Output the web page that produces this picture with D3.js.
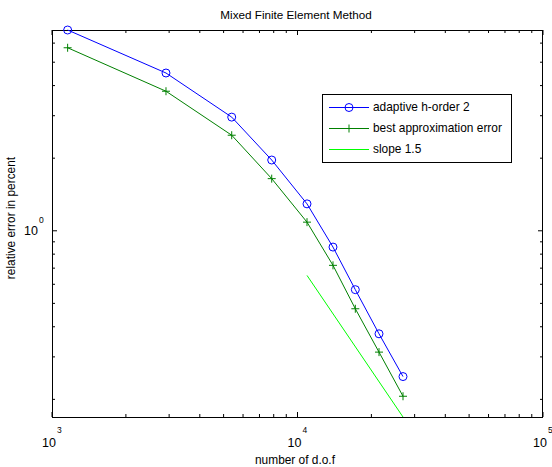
<!DOCTYPE html>
<html><head><meta charset="utf-8">
<script src="https://cdn.jsdelivr.net/npm/d3@7"></script>
<style>body{margin:0;background:#fff}svg{display:block}text{font-family:"Liberation Sans",Arial,sans-serif;fill:#000}</style>
</head><body>
<script>
// data
const dof = [1158, 2913, 5395, 7852, 10932, 13950, 17200, 21480, 26900];
const adaptive = [6.80, 4.51, 2.96, 1.965, 1.293, 0.856, 0.570, 0.374, 0.2486];
const bestApprox = [5.74, 3.79, 2.49, 1.645, 1.086, 0.719, 0.475, 0.314, 0.206];
const slopeX = [10932, 26900];
const slopeY = [0.653, 0.169];
const xMajor = [1e3, 1e4, 1e5];
const xMajorExp = ["3", "4", "5"];
const xMinor = [2e3,3e3,4e3,5e3,6e3,7e3,8e3,9e3,2e4,3e4,4e4,5e4,6e4,7e4,8e4,9e4];
const yMajor = [1];
const yMajorExp = ["0"];
const yMinor = [0.2,0.3,0.4,0.5,0.6,0.7,0.8,0.9,2,3,4,5,6];
const legendLabels = ["adaptive h-order 2", "best approximation error", "slope 1.5"];

const W = 552, H = 467;
const L = 52, R = 543, T = 30, B = 417;
const svg = d3.select("body").append("svg").attr("width", W).attr("height", H);
const x = d3.scaleLog().domain([1e3, 1e5]).range([L, R]);
const y = d3.scaleLog().domain([0.169, 6.80]).range([B, T]);

const g = svg.append("g");
function xt(v, len) {
  g.append("line").attr("x1", x(v)).attr("x2", x(v)).attr("y1", B).attr("y2", B - len).attr("stroke", "#000");
  g.append("line").attr("x1", x(v)).attr("x2", x(v)).attr("y1", T).attr("y2", T + len).attr("stroke", "#000");
}
function yt(v, len) {
  g.append("line").attr("y1", y(v)).attr("y2", y(v)).attr("x1", L).attr("x2", L + len).attr("stroke", "#000");
  g.append("line").attr("y1", y(v)).attr("y2", y(v)).attr("x1", R).attr("x2", R - len).attr("stroke", "#000");
}
xMinor.forEach(v => xt(v, 3));
xMajor.forEach(v => xt(v, 5));
yMinor.forEach(v => yt(v, 3));
yMajor.forEach(v => yt(v, 5));

g.append("rect").attr("x", L + 0.5).attr("y", T + 0.5).attr("width", R - L - 1).attr("height", B - T)
  .attr("fill", "none").attr("stroke", "#000");

xMajor.forEach((v, i) => {
  svg.append("text").attr("x", x(v) + 4).attr("y", 447).attr("text-anchor", "end").attr("font-size", 12.5).text("10");
  svg.append("text").attr("x", x(v) + 5).attr("y", 433).attr("font-size", 8.5).text(xMajorExp[i]);
});
yMajor.forEach((v, i) => {
  svg.append("text").attr("x", 38).attr("y", y(v) + 4).attr("text-anchor", "end").attr("font-size", 12.5).text("10");
  svg.append("text").attr("x", 39).attr("y", y(v) - 8).attr("font-size", 8.5).text(yMajorExp[i]);
});

svg.append("text").attr("x", 296).attr("y", 19).attr("text-anchor", "middle").attr("font-size", 11.7).text("Mixed Finite Element Method");
svg.append("text").attr("x", 295).attr("y", 464).attr("text-anchor", "middle").attr("font-size", 11.9).text("number of d.o.f");
svg.append("text").attr("transform", "translate(15,218) rotate(-90)").attr("text-anchor", "middle").attr("font-size", 11.9).text("relative error in percent");

const line = d3.line().x(d => x(d[0])).y(d => y(d[1]));
const blueData = dof.map((d, i) => [d, adaptive[i]]);
const greenData = dof.map((d, i) => [d, bestApprox[i]]);
const slopeData = slopeX.map((d, i) => [d, slopeY[i]]);
const plot = svg.append("g");
plot.append("path").datum(blueData).attr("d", line).attr("fill", "none").attr("stroke", "#0000ff").attr("stroke-width", 1);
plot.append("path").datum(greenData).attr("d", line).attr("fill", "none").attr("stroke", "#008000").attr("stroke-width", 1);
plot.append("path").datum(slopeData).attr("d", line).attr("fill", "none").attr("stroke", "#00ff00").attr("stroke-width", 1);
plot.selectAll("circle.m").data(blueData).enter().append("circle")
  .attr("cx", d => x(d[0])).attr("cy", d => y(d[1])).attr("r", 4)
  .attr("fill", "none").attr("stroke", "#0000ff");
function plus(sel, cx, cy, color) {
  sel.append("path").attr("d", `M${cx-4},${cy}H${cx+4}M${cx},${cy-4}V${cy+4}`).attr("stroke", color).attr("fill", "none");
}
greenData.forEach(d => plus(plot, x(d[0]), y(d[1]), "#008000"));

const lg = svg.append("g");
lg.append("rect").attr("x", 322.5).attr("y", 94.5).attr("width", 189).attr("height", 68).attr("fill", "#fff").attr("stroke", "#000");
const rows = [107, 128, 149];
const colors = ["#0000ff", "#008000", "#00ff00"];
rows.forEach((ry, i) => {
  lg.append("line").attr("x1", 329).attr("x2", 369).attr("y1", ry + 0.5).attr("y2", ry + 0.5).attr("stroke", colors[i]);
  lg.append("text").attr("x", 373).attr("y", ry + 4).attr("font-size", 11.9).text(legendLabels[i]);
});
lg.append("circle").attr("cx", 349).attr("cy", rows[0] + 0.5).attr("r", 4).attr("fill", "none").attr("stroke", "#0000ff");
plus(lg, 349, rows[1] + 0.5, "#008000");
</script>
</body></html>
